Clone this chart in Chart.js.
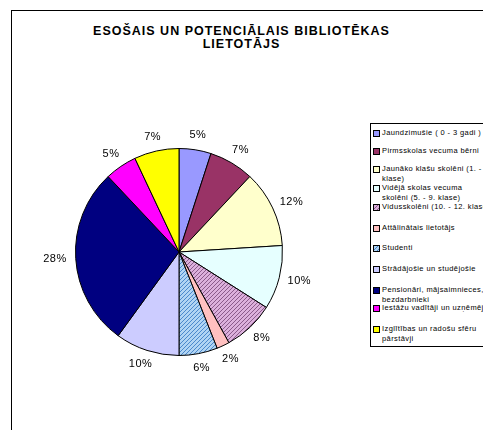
<!DOCTYPE html>
<html>
<head>
<meta charset="utf-8">
<script src="https://cdn.jsdelivr.net/npm/chart.js@4.4.1/dist/chart.umd.min.js"></script>
<style>
    html, body { margin: 0; padding: 0; background: #fff; overflow: hidden; }
    #wrap { position: relative; width: 483px; height: 430px; font-family: "Liberation Sans", Arial, sans-serif; color: #000; }
    #frame { position: absolute; left: 11px; top: 10px; width: 600px; height: 600px; border: 1px solid #000; }
    #title { position: absolute; left: 0; top: 25px; width: 483px; text-align: center; font-weight: bold; font-size: 12.5px; letter-spacing: 1px; line-height: 12.5px; }
    #chart-box { position: absolute; left: 0; top: 0; width: 483px; height: 430px; }
    #legend { position: absolute; left: 370px; top: 123px; width: 200px; height: 222px; border: 1px solid #000; background: #fff; }
    .legend-item { position: absolute; left: 2px; font-size: 7.5px; letter-spacing: 0.4px; line-height: 9.5px; white-space: pre; }
    .legend-color { position: absolute; left: 0; top: 2px; width: 5px; height: 5px; border: 1px solid #000; }
    .legend-item span { display: block; margin-left: 9px; }
</style>
</head>
<body>
<div id="wrap">
    <div id="frame"></div>
    <div id="title">ESOŠAIS UN POTENCIĀLAIS BIBLIOTĒKAS<br>LIETOTĀJS</div>
    <div id="chart-box"><canvas id="pie-chart"></canvas></div>
    <div id="legend"></div>
</div>
<script>
const categories = [
    'Jaundzimušie ( 0 - 3 gadi )',
    'Pirmsskolas vecuma bērni',
    'Jaunāko klašu skolēni (1. - 4.\nklase)',
    'Vidējā skolas vecuma\nskolēni (5. - 9. klase)',
    'Vidusskolēni (10. - 12. klase)',
    'Attālinātais lietotājs',
    'Studenti',
    'Strādājošie un studējošie',
    'Pensionāri, mājsaimnieces,\nbezdarbnieki',
    'Iestāžu vadītāji un uzņēmēji',
    'Izglītības un radošu sfēru\npārstāvji'
];
const shares = [5, 7, 12, 10, 8, 2, 6, 10, 28, 5, 7];

// legend first-line positions (px from legend top)
const legendTops = [4, 22, 40, 59, 78, 99, 119, 140, 161, 179, 200];

function hatch(bg, fg) {
    const c = document.createElement('canvas');
    c.width = 4;
    c.height = 4;
    const g = c.getContext('2d');
    g.fillStyle = bg;
    g.fillRect(0, 0, 4, 4);
    g.fillStyle = fg;
    for (let i = 0; i < 4; i++) {
        g.fillRect(i, 3 - i, 1, 1);
    }
    return c;
}

const purpleHatch = hatch('#dcb0dc', '#8a5a8a');
const blueHatch = hatch('#b0d4f4', '#4a88cc');
const ctx = document.getElementById('pie-chart').getContext('2d');

const sliceColors = [
    '#9999ff', '#993366', '#ffffcc', '#e6ffff',
    ctx.createPattern(purpleHatch, 'repeat'),
    '#ffc0c0',
    ctx.createPattern(blueHatch, 'repeat'),
    '#ccccff', '#000080', '#ff00ff', '#ffff00'
];
const swatchFills = [
    '#9999ff', '#993366', '#ffffcc', '#e6ffff',
    'url(' + purpleHatch.toDataURL() + ')',
    '#ffc0c0',
    'url(' + blueHatch.toDataURL() + ')',
    '#ccccff', '#000080', '#ff00ff', '#ffff00'
];

const outsideLabels = {
    id: 'outsideLabels',
    afterDatasetsDraw(chart) {
        const c = chart.ctx;
        const meta = chart.getDatasetMeta(0);
        c.save();
        c.font = '11px "Liberation Sans", Arial, sans-serif';
        c.letterSpacing = '0.5px';
        c.fillStyle = '#000';
        c.textAlign = 'center';
        c.textBaseline = 'middle';
        meta.data.forEach((arc, i) => {
            const mid = (arc.startAngle + arc.endAngle) / 2;
            const dx = Math.cos(mid);
            const dy = Math.sin(mid);
            const text = shares[i] + '%';
            const w = c.measureText(text).width;
            const d = arc.outerRadius + 9;
            c.fillText(text, arc.x + dx * (d + w / 2), arc.y + dy * (d + 5.5));
        });
        c.restore();
    }
};

new Chart(ctx, {
    type: 'pie',
    data: {
        labels: categories,
        datasets: [{
            data: shares,
            backgroundColor: sliceColors,
            borderColor: '#000',
            borderWidth: 1
        }]
    },
    options: {
        responsive: true,
        maintainAspectRatio: false,
        animation: false,
        layout: { padding: { left: 75, right: 200, top: 148, bottom: 74 } },
        plugins: {
            legend: { display: false },
            tooltip: { enabled: false }
        }
    },
    plugins: [outsideLabels]
});

function createLegend(elementId, labels, fills) {
    const legendElement = document.getElementById(elementId);
    labels.forEach((label, index) => {
        const item = document.createElement('div');
        item.className = 'legend-item';
        item.style.top = legendTops[index] + 'px';

        const colorBox = document.createElement('div');
        colorBox.className = 'legend-color';
        colorBox.style.background = fills[index];

        const text = document.createElement('span');
        text.textContent = label;

        item.appendChild(colorBox);
        item.appendChild(text);
        legendElement.appendChild(item);
    });
}

createLegend('legend', categories, swatchFills);
</script>
</body>
</html>
